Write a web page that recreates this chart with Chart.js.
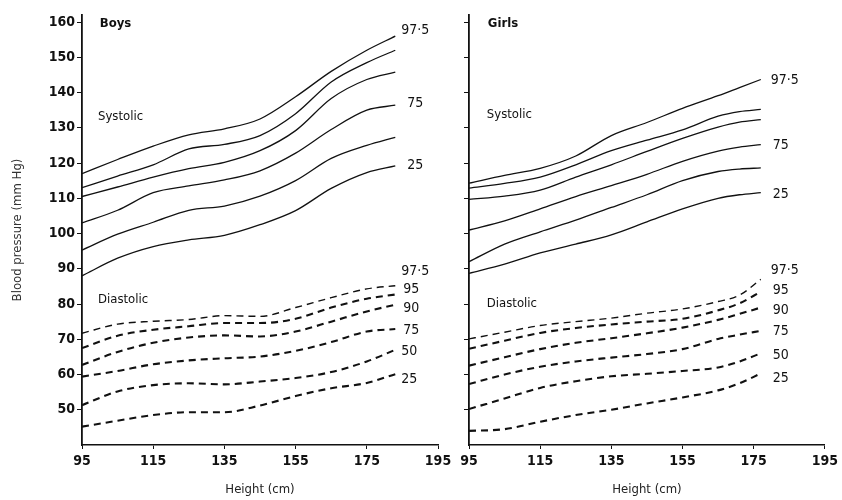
<!DOCTYPE html>
<html>
<head>
<meta charset="utf-8">
<script src="https://cdn.jsdelivr.net/npm/chart.js@4.4.1/dist/chart.umd.min.js"></script>
<style>
  body { margin: 0; background: #fff; }
  #wrap { position: relative; width: 842px; height: 500px; }
  canvas { position: absolute; top: 0; }
  #boys { left: 0; }
  #girls { left: 456px; }
</style>
</head>
<body>
<div id="wrap">
  <canvas id="boys" width="456" height="500"></canvas>
  <canvas id="girls" width="386" height="500"></canvas>
</div>
<script>
// ── DATA ──────────────────────────────────────────────────────
const heightTicks = [95, 115, 135, 155, 175, 195];
const bpTicks = [50, 60, 70, 80, 90, 100, 110, 120, 130, 140, 150, 160];

// Boys
const boysHeight = [95, 105, 115, 125, 135, 145, 155, 165, 175, 183];
const boysSys975 = [117, 121, 124.8, 128, 129.7, 132.5, 138.8, 146, 152, 156];
const boysSys95  = [113, 116.3, 119.5, 124, 125.3, 127.8, 134, 143, 148.5, 152];
const boysSys90  = [110.5, 113.2, 116, 118.4, 120.2, 123.5, 129.2, 138.3, 143.7, 145.8];
const boysSys75  = [103, 106.6, 111.6, 113.5, 115.2, 117.8, 122.8, 129.5, 135, 136.4];
const boysSys50  = [95.3, 99.8, 103.2, 106.6, 107.8, 110.6, 115, 121.3, 125, 127.3];
const boysSys25  = [88, 93, 96.3, 98.2, 99.5, 102.5, 106.5, 112.8, 117.3, 119.2];
const boysDia975 = [71.7, 74.3, 75.1, 75.6, 76.7, 76.5, 79, 81.8, 84.3, 85.2];
const boysDia95  = [67.5, 71, 72.7, 73.7, 74.6, 74.6, 75.8, 79, 81.5, 82.7];
const boysDia90  = [62.7, 66.4, 69, 70.5, 71.1, 70.8, 72.2, 75, 77.9, 79.8];
const boysDia75  = [59.4, 61, 62.9, 64, 64.6, 65.1, 66.7, 69.2, 72.2, 72.9];
const boysDia50  = [51.3, 55.2, 57, 57.5, 57.2, 58, 59, 60.7, 63.7, 67];
const boysDia25  = [45.2, 46.9, 48.5, 49.3, 49.3, 51.2, 53.9, 56.1, 57.6, 60.1];

// Girls
const girlsHeight = [95, 105, 115, 125, 135, 145, 155, 165, 171, 177];
const girlsSys975 = [114.3, 116.5, 118.5, 122, 127.8, 131.5, 135.5, 139.1, 141.4, 143.7];
const girlsSys95  = [112.9, 114.2, 116, 119.5, 123.5, 126.5, 129.4, 133.3, 134.6, 135.2];
const girlsSys90  = [109.7, 110.6, 112.3, 116, 119.5, 123.3, 127, 130.2, 131.6, 132.3];
const girlsSys75  = [101, 103.6, 107, 110.5, 113.6, 116.8, 120.5, 123.4, 124.5, 125.2];
const girlsSys50  = [92, 97, 100.5, 103.8, 107.4, 111, 115, 117.6, 118.3, 118.6];
const girlsSys25  = [88.7, 91.3, 94.5, 97, 99.6, 103.3, 107, 110, 111, 111.6];
const girlsDia975 = [70.1, 72, 73.9, 75, 76, 77.4, 78.6, 80.7, 82.5, 87];
const girlsDia95  = [67.3, 69.6, 71.8, 73.2, 74.2, 75, 75.8, 78.2, 80.2, 83.5];
const girlsDia90  = [62.5, 64.9, 67.2, 69, 70.3, 71.7, 73.3, 75.5, 77.2, 79];
const girlsDia75  = [57.3, 60, 62.2, 63.7, 64.8, 65.8, 67.2, 70.1, 71.3, 72.4];
const girlsDia50  = [50.2, 53.2, 56.2, 58.1, 59.5, 60.2, 61, 62, 63.7, 66];
const girlsDia25  = [44, 44.5, 46.6, 48.5, 50, 51.8, 53.5, 55.5, 57.5, 60.3];

const INK = '#111';
const FONT = '"Liberation Sans Narrow", "DejaVu Sans Condensed", "Liberation Sans", sans-serif';

// ── HELPERS ───────────────────────────────────────────────────
function pts(xs, ys) {
  return xs.map((x, i) => ({ x, y: ys[i] }));
}

function sys(xs, ys, label, dx, dy) {
  return { data: pts(xs, ys), endLabel: label, dx: dx || 8, dy: dy || 0,
           borderColor: INK, borderWidth: 1.3, pointRadius: 0, cubicInterpolationMode: 'monotone' };
}

function dia(xs, ys, label, dx, dy, w) {
  return { data: pts(xs, ys), endLabel: label, dx: dx || 6, dy: dy || 0,
           borderColor: INK, borderWidth: w || 2.1, borderDash: [7, 5], pointRadius: 0,
           cubicInterpolationMode: 'monotone' };
}

// curve-end labels and panel captions
const textPlugin = {
  id: 'texts',
  afterDatasetsDraw(chart, args, opts) {
    const ctx = chart.ctx;
    const xs = chart.scales.x, ys = chart.scales.y;
    ctx.save();
    ctx.fillStyle = INK;
    ctx.textBaseline = 'middle';
    ctx.textAlign = 'left';
    ctx.font = '14px ' + FONT;
    chart.data.datasets.forEach((ds, i) => {
      if (!ds.endLabel) return;
      const pts = chart.getDatasetMeta(i).data;
      const p = pts[pts.length - 1];
      ctx.fillText(ds.endLabel, p.x + ds.dx, p.y + ds.dy);
    });
    (opts.captions || []).forEach(c => {
      ctx.font = (c.bold ? 'bold ' : '') + '13px ' + FONT;
      ctx.fillText(c.text, xs.getPixelForValue(c.x), ys.getPixelForValue(c.y));
    });
    ctx.restore();
  }
};

function panel(id, datasets, captions, showLabels, pad) {
  new Chart(document.getElementById(id), {
    type: 'line',
    data: { datasets },
    plugins: [textPlugin],
    options: {
      responsive: false,
      animation: false,
      layout: { padding: pad },
      plugins: { legend: { display: false }, tooltip: { enabled: false }, texts: { captions } },
      scales: {
        x: {
          type: 'linear', min: 95, max: 195,
          afterBuildTicks: s => { s.ticks = heightTicks.map(v => ({ value: v })); },
          afterFit: s => { s.height = 55; },
          border: { display: true, color: INK, width: 1.6 },
          grid: { drawOnChartArea: false, drawTicks: true, tickLength: 4, color: INK },
          ticks: { color: INK, padding: 4, font: { family: FONT, size: 14, weight: 'bold' } },
          title: { display: true, text: 'Height (cm)', color: '#222', padding: { top: 0, bottom: 3 },
                   font: { family: FONT, size: 13 } }
        },
        y: {
          type: 'linear', min: 40, max: 162,
          afterBuildTicks: s => { s.ticks = bpTicks.map(v => ({ value: v })); },
          afterFit: s => { s.width = showLabels ? 82 : 13; },
          border: { display: true, color: INK, width: 1.8 },
          grid: { drawOnChartArea: false, drawTicks: true, tickLength: 5, color: INK },
          ticks: { color: INK, padding: 2, font: { family: FONT, size: 14, weight: 'bold' },
                   callback: v => showLabels ? v : '' },
          title: { display: showLabels, text: 'Blood pressure (mm Hg)', color: '#333',
                   padding: { top: 10, bottom: 0 }, font: { family: FONT, size: 13 } }
        }
      }
    }
  });
}

// ── BOYS ──────────────────────────────────────────────────────
panel('boys', [
  sys(boysHeight, boysSys975, '97·5', 6, -6),
  sys(boysHeight, boysSys95, ''),
  sys(boysHeight, boysSys90, ''),
  sys(boysHeight, boysSys75, '75', 12, -2),
  sys(boysHeight, boysSys50, ''),
  sys(boysHeight, boysSys25, '25', 12, 0),
  dia(boysHeight, boysDia975, '97·5', 6, -14, 1.4),
  dia(boysHeight, boysDia95, '95', 8, -5),
  dia(boysHeight, boysDia90, '90', 8, 4),
  dia(boysHeight, boysDia75, '75', 8, 1),
  dia(boysHeight, boysDia50, '50', 6, 2),
  dia(boysHeight, boysDia25, '25', 6, 5)
], [
  { text: 'Boys', x: 100, y: 159.5, bold: true },
  { text: 'Systolic', x: 99.5, y: 133.2 },
  { text: 'Diastolic', x: 99.5, y: 81.3 }
], true, { top: 15, right: 18, left: 0, bottom: 0 });

// ── GIRLS ─────────────────────────────────────────────────────
panel('girls', [
  sys(girlsHeight, girlsSys975, '97·5', 10, 1),
  sys(girlsHeight, girlsSys95, ''),
  sys(girlsHeight, girlsSys90, ''),
  sys(girlsHeight, girlsSys75, '75', 12, 1),
  sys(girlsHeight, girlsSys50, ''),
  sys(girlsHeight, girlsSys25, '25', 12, 2),
  dia(girlsHeight, girlsDia975, '97·5', 10, -9, 1.4),
  dia(girlsHeight, girlsDia95, '95', 12, -1),
  dia(girlsHeight, girlsDia90, '90', 12, 3),
  dia(girlsHeight, girlsDia75, '75', 12, 1),
  dia(girlsHeight, girlsDia50, '50', 12, 2),
  dia(girlsHeight, girlsDia25, '25', 12, 5)
], [
  { text: 'Girls', x: 100.3, y: 159.5, bold: true },
  { text: 'Systolic', x: 100, y: 133.8 },
  { text: 'Diastolic', x: 100, y: 80.2 }
], false, { top: 15, right: 13, left: 0, bottom: 0 });
</script>
</body>
</html>
